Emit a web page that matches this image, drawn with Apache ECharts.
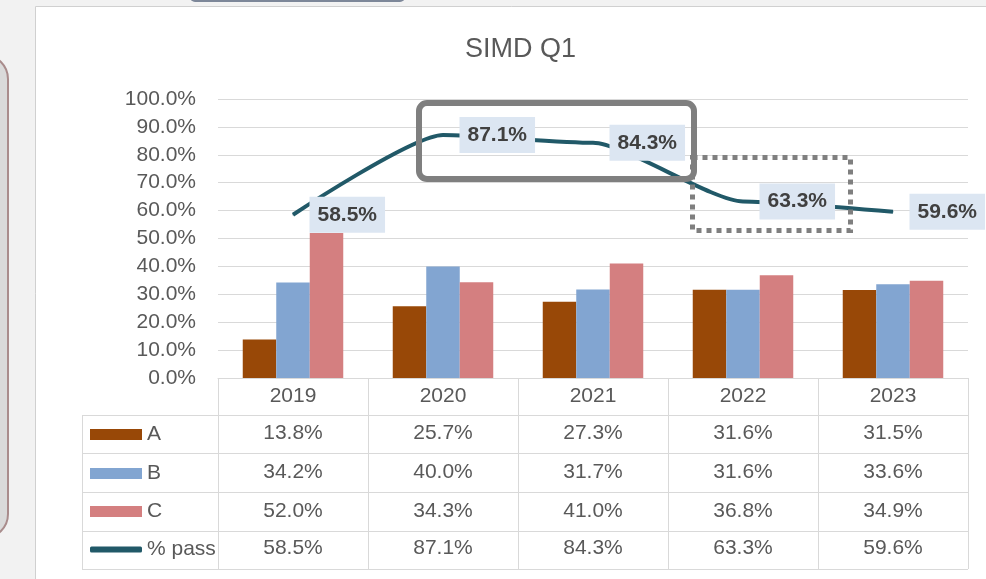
<!DOCTYPE html>
<html>
<head>
<meta charset="utf-8">
<script src="https://cdn.jsdelivr.net/npm/echarts@6/dist/echarts.min.js"></script>
<style>
  html, body { margin: 0; padding: 0; background: #f2f2f2; }
  #main { width: 986px; height: 579px; }
</style>
</head>
<body>
<div id="main"></div>
<script>
// data
const years = ['2019', '2020', '2021', '2022', '2023'];
const seriesA = [0.138, 0.257, 0.273, 0.316, 0.315];
const seriesB = [0.342, 0.400, 0.317, 0.316, 0.336];
const seriesC = [0.520, 0.343, 0.410, 0.368, 0.349];
const passRate = [0.585, 0.871, 0.843, 0.633, 0.596];

const colA = '#984807';
const colB = '#82a5d1';
const colC = '#d47f80';
const colLine = '#215968';
const textCol = '#595959';
const gridCol = '#d9d9d9';
const font = 'Liberation Sans, Arial, sans-serif';

const pct = v => (v * 100).toFixed(1) + '%';

// rows of the data table under the chart
const rows = [
    { name: 'A', data: seriesA, offset: 36.5, top: 424, line: false },
    { name: 'B', data: seriesB, offset: 76, top: 463, line: false },
    { name: 'C', data: seriesC, offset: 114.5, top: 501, line: false },
    { name: '% pass', data: passRate, offset: 152, top: 539, line: true }
];

let chart = echarts.init(document.getElementById('main'));

let xAxes = [{
    type: 'category',
    data: years,
    axisLine: { lineStyle: { color: gridCol } },
    axisTick: { show: true, length: 191, lineStyle: { color: gridCol } },
    axisLabel: { margin: 8, fontSize: 21, color: textCol, fontFamily: font }
}];
rows.forEach(r => {
    xAxes.push({
        type: 'category',
        data: years,
        position: 'bottom',
        offset: r.offset,
        axisLine: { show: false },
        axisTick: { show: false },
        axisLabel: {
            margin: 8, fontSize: 21, color: textCol, fontFamily: font,
            formatter: (v, i) => pct(r.data[i])
        }
    });
});

let tableLines = [];
[415.5, 453.5, 492.5, 531.5, 569.5].forEach(y => {
    tableLines.push({ type: 'line', shape: { x1: 82, y1: y, x2: 968, y2: y },
        style: { stroke: gridCol, lineWidth: 1 }, z: -1 });
});
tableLines.push({ type: 'line', shape: { x1: 82.5, y1: 415, x2: 82.5, y2: 570 },
    style: { stroke: gridCol, lineWidth: 1 }, z: -1 });

let option = {
    animation: false,
    textStyle: { fontFamily: font },
    title: {
        text: 'SIMD Q1',
        left: 460,
        top: 31,
        textStyle: { fontSize: 27, fontWeight: 'normal', color: textCol, fontFamily: font }
    },
    legend: rows.map(r => ({
        data: [r.name],
        left: 90,
        top: r.top,
        padding: 0,
        selectedMode: false,
        icon: r.line ? 'roundRect' : 'rect',
        itemWidth: 52,
        itemHeight: r.line ? 6 : 11,
        textStyle: { fontSize: 21, color: textCol, fontFamily: font }
    })),
    grid: { left: 218, right: 18, top: 99, bottom: 201 },
    xAxis: xAxes,
    yAxis: {
        type: 'value',
        min: 0,
        max: 1,
        interval: 0.1,
        axisLine: { show: false },
        axisTick: { show: false },
        splitLine: { lineStyle: { color: gridCol } },
        axisLabel: { margin: 22, fontSize: 21, color: textCol, fontFamily: font, formatter: v => pct(v) }
    },
    series: [
        { name: 'A', type: 'bar', data: seriesA, itemStyle: { color: colA }, barGap: '0%', barCategoryGap: '33%' },
        { name: 'B', type: 'bar', data: seriesB, itemStyle: { color: colB }, barGap: '0%', barCategoryGap: '33%' },
        { name: 'C', type: 'bar', data: seriesC, itemStyle: { color: colC }, barGap: '0%', barCategoryGap: '33%' },
        {
            name: '% pass',
            type: 'line',
            data: passRate,
            smooth: 0.2,
            smoothMonotone: 'x',
            symbol: 'circle',
            symbolSize: 1,
            itemStyle: { color: colLine },
            lineStyle: { color: colLine, width: 4 },
            z: 5,
            label: {
                show: true,
                position: 'right',
                distance: 16,
                formatter: p => pct(p.value),
                backgroundColor: '#dce6f2',
                padding: [7, 8],
                lineHeight: 22,
                fontSize: 21,
                fontWeight: 'bold',
                color: '#404040',
                fontFamily: font
            }
        }
    ],
    graphic: [
        // page / chart area
        { type: 'rect', shape: { x: 35.5, y: 6.5, width: 960, height: 600 },
          style: { fill: '#ffffff', stroke: '#d0d0d0', lineWidth: 1 }, z: -10 },
        // left panel edge
        { type: 'rect', shape: { x: -40, y: 55, width: 48, height: 483, r: 30 },
          style: { fill: '#dadada', stroke: '#a98c8c', lineWidth: 2 }, z: -10 },
        // top tab
        { type: 'rect', shape: { x: 190, y: -8, width: 215, height: 10, r: 6 },
          style: { fill: '#7d8799' }, z: -10 }
    ].concat(tableLines).concat([
        // annotations
        { type: 'rect', shape: { x: 692.5, y: 157.5, width: 158, height: 73 },
          style: { fill: null, stroke: '#7f7f7f', lineWidth: 5, lineDash: [5, 5] }, z: 100 },
        { type: 'rect', shape: { x: 419, y: 103, width: 275, height: 76, r: 8 },
          style: { fill: null, stroke: '#7f7f7f', lineWidth: 6 }, z: 101 }
    ])
};
chart.setOption(option);
</script>
</body>
</html>
